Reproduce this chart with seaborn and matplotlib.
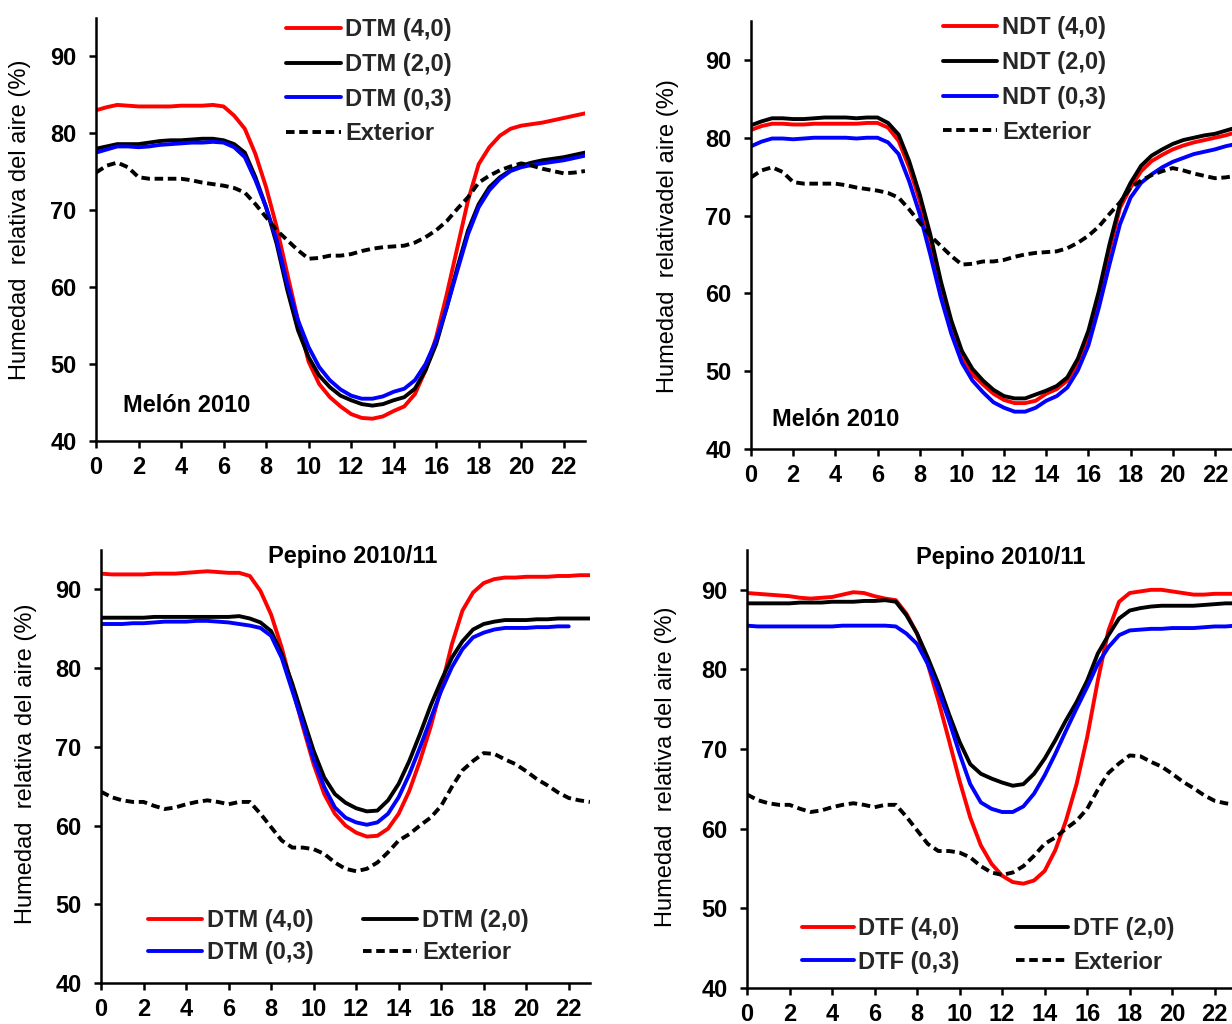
import numpy as np
import pandas as pd
import matplotlib
matplotlib.use("Agg")
import matplotlib.pyplot as plt
from matplotlib.lines import Line2D
import seaborn as sns

# Hour of day, half-hourly readings
hours = [h / 2 for h in range(47)]

# Melón 2010 - DTM treatments
mel_dtm_40 = [83.0, 83.4, 83.7, 83.6, 83.5, 83.5, 83.5, 83.5, 83.6, 83.6, 83.6, 83.7, 83.5, 82.3,
              80.6, 77.3, 73.0, 67.8, 61.7, 55.7, 50.3, 47.4, 45.7, 44.5, 43.5, 43.0, 42.9, 43.2,
              43.9, 44.5, 46.1, 49.2, 53.5, 59.1, 65.2, 71.3, 76.0, 78.2, 79.7, 80.6, 81.0, 81.2,
              81.4, 81.7, 82.0, 82.3, 82.6]
mel_dtm_20 = [78.0, 78.3, 78.6, 78.6, 78.6, 78.8, 79.0, 79.1, 79.1, 79.2, 79.3, 79.3, 79.1, 78.6,
              77.5, 74.3, 70.4, 65.6, 59.6, 54.4, 50.9, 48.5, 47.0, 45.9, 45.3, 44.8, 44.6, 44.8,
              45.3, 45.7, 46.8, 49.2, 52.6, 57.4, 62.6, 67.4, 70.8, 73.0, 74.3, 75.2, 75.8, 76.2,
              76.5, 76.7, 76.9, 77.2, 77.5]
mel_dtm_03 = [77.5, 77.9, 78.3, 78.3, 78.2, 78.3, 78.5, 78.6, 78.7, 78.8, 78.8, 78.9, 78.8, 78.2,
              76.9, 73.9, 70.4, 66.1, 60.4, 55.7, 52.2, 49.6, 47.9, 46.7, 45.9, 45.5, 45.5, 45.8,
              46.4, 46.8, 47.9, 50.0, 53.1, 57.4, 62.2, 66.9, 70.4, 72.6, 74.1, 75.1, 75.6, 75.9,
              76.1, 76.3, 76.5, 76.8, 77.1]
mel_exterior = [74.9, 75.8, 76.2, 75.6, 74.3, 74.1, 74.1, 74.1, 74.1, 73.9, 73.6, 73.4, 73.2, 72.9,
                72.3, 70.8, 69.1, 67.4, 66.1, 64.8, 63.7, 63.8, 64.1, 64.1, 64.3, 64.7, 65.0, 65.2,
                65.3, 65.4, 65.8, 66.5, 67.4, 68.6, 70.2, 71.7, 73.6, 74.5, 75.2, 75.7, 76.1, 75.8,
                75.4, 75.1, 74.8, 74.9, 75.1]

# Melón 2010 - NDT treatments
mel_ndt_40 = [81.0, 81.5, 81.8, 81.8, 81.7, 81.7, 81.8, 81.8, 81.8, 81.8, 81.8, 81.9, 81.9, 81.3,
              79.6, 76.2, 71.9, 66.7, 60.8, 55.6, 51.8, 49.6, 48.3, 47.1, 46.3, 45.9, 45.9, 46.2,
              47.1, 47.7, 48.8, 50.9, 54.3, 59.5, 65.5, 71.0, 73.6, 75.7, 77.0, 77.8, 78.5, 79.0,
              79.4, 79.7, 80.0, 80.3, 80.7]
mel_ndt_20 = [81.6, 82.1, 82.5, 82.5, 82.4, 82.4, 82.5, 82.6, 82.6, 82.6, 82.5, 82.6, 82.6, 81.9,
              80.4, 77.0, 72.7, 67.6, 61.6, 56.5, 52.6, 50.3, 48.8, 47.6, 46.8, 46.5, 46.5, 47.0,
              47.5, 48.1, 49.2, 51.6, 55.2, 60.3, 66.3, 71.5, 74.2, 76.4, 77.7, 78.5, 79.2, 79.7,
              80.0, 80.3, 80.5, 80.9, 81.3]
mel_ndt_03 = [78.9, 79.5, 79.9, 79.9, 79.8, 79.9, 80.0, 80.0, 80.0, 80.0, 79.9, 80.0, 80.0, 79.4,
              77.9, 74.4, 70.2, 65.0, 59.5, 54.8, 51.1, 48.8, 47.3, 46.0, 45.3, 44.8, 44.8, 45.3,
              46.2, 46.8, 47.9, 50.1, 53.3, 58.2, 63.7, 68.9, 72.3, 74.2, 75.3, 76.2, 76.9, 77.4,
              77.9, 78.2, 78.5, 78.9, 79.2]

# Pepino 2010/11 - DTM treatments
pep_dtm_40 = [92.0, 91.9, 91.9, 91.9, 91.9, 92.0, 92.0, 92.0, 92.1, 92.2, 92.3, 92.2, 92.1, 92.1,
              91.7, 89.8, 86.8, 82.6, 77.5, 72.5, 67.8, 64.0, 61.5, 60.0, 59.1, 58.6, 58.7, 59.6,
              61.5, 64.4, 68.2, 72.5, 77.5, 83.0, 87.3, 89.6, 90.8, 91.3, 91.5, 91.5, 91.6, 91.6,
              91.6, 91.7, 91.7, 91.8, 91.8]
pep_dtm_20 = [86.4, 86.4, 86.4, 86.4, 86.4, 86.5, 86.5, 86.5, 86.5, 86.5, 86.5, 86.5, 86.5, 86.6,
              86.3, 85.8, 84.7, 81.8, 78.0, 73.7, 69.5, 66.1, 64.0, 62.9, 62.2, 61.8, 61.9, 63.2,
              65.3, 68.2, 71.6, 75.2, 78.4, 81.3, 83.4, 84.9, 85.6, 85.9, 86.1, 86.1, 86.1, 86.2,
              86.2, 86.3, 86.3, 86.3, 86.3]
pep_dtm_03 = [85.6, 85.6, 85.6, 85.7, 85.7, 85.8, 85.9, 85.9, 85.9, 86.0, 86.0, 85.9, 85.8, 85.6,
              85.4, 85.1, 84.1, 81.3, 77.1, 72.9, 68.4, 64.9, 62.3, 61.0, 60.4, 60.1, 60.4, 61.5,
              63.6, 66.5, 69.9, 73.5, 77.1, 80.1, 82.4, 83.9, 84.5, 84.9, 85.1, 85.1, 85.1, 85.2,
              85.2, 85.3, 85.3, np.nan, np.nan]
pep_exterior = [64.3, 63.6, 63.2, 63.0, 63.0, 62.5, 62.1, 62.3, 62.7, 63.0, 63.2, 63.0, 62.7, 63.0,
                63.0, 61.5, 59.8, 58.1, 57.2, 57.2, 57.0, 56.4, 55.3, 54.5, 54.2, 54.5, 55.3, 56.6,
                58.1, 58.9, 60.0, 61.0, 62.5, 64.9, 67.0, 68.2, 69.2, 69.1, 68.4, 67.8, 66.9, 65.9,
                65.1, 64.2, 63.5, 63.2, 63.0]

# Pepino 2010/11 - DTF treatments
pep_dtf_40 = [89.6, 89.5, 89.4, 89.3, 89.2, 89.0, 88.9, 89.0, 89.1, 89.4, 89.7, 89.6, 89.2, 88.9,
              88.7, 87.0, 84.5, 80.7, 76.1, 71.1, 66.0, 61.4, 57.9, 55.6, 54.1, 53.3, 53.1, 53.5,
              54.7, 57.3, 61.0, 65.6, 71.5, 78.6, 84.9, 88.5, 89.6, 89.8, 90.0, 90.0, 89.8, 89.6,
              89.4, 89.4, 89.5, 89.5, 89.5]
pep_dtf_20 = [88.3, 88.3, 88.3, 88.3, 88.3, 88.4, 88.4, 88.4, 88.5, 88.5, 88.5, 88.6, 88.6, 88.7,
              88.5, 86.8, 84.5, 81.5, 78.2, 74.4, 70.9, 68.1, 66.9, 66.3, 65.8, 65.4, 65.6, 66.9,
              68.8, 71.1, 73.6, 75.9, 78.6, 82.0, 84.3, 86.4, 87.4, 87.7, 87.9, 88.0, 88.0, 88.0,
              88.0, 88.1, 88.2, 88.3, 88.3]
pep_dtf_03 = [85.5, 85.4, 85.4, 85.4, 85.4, 85.4, 85.4, 85.4, 85.4, 85.5, 85.5, 85.5, 85.5, 85.5,
              85.4, 84.5, 83.2, 80.7, 77.4, 73.6, 69.4, 65.6, 63.3, 62.5, 62.1, 62.1, 62.8, 64.4,
              66.7, 69.4, 72.3, 75.1, 77.8, 80.7, 82.8, 84.3, 84.9, 85.0, 85.1, 85.1, 85.2, 85.2,
              85.2, 85.3, 85.4, 85.4, 85.5]

x_ticks = list(range(0, 24, 2))
y_ticks = [40, 50, 60, 70, 80, 90]

sns.set_theme(style="ticks")
plt.rcParams["font.family"] = ["Liberation Sans", "DejaVu Sans"]

RED, BLACK, BLUE = "#ff0000", "#000000", "#0000ff"
LW = 2.8
DASH = (2.2, 1.2)
FS = 17

fig = plt.figure(figsize=(12.32, 10.24), dpi=100)
W, H = 1232, 1024


def add_axes(left, right, bottom, top):
    return fig.add_axes([left / W, 1 - bottom / H, (right - left) / W, (bottom - top) / H])


panels = [
    dict(box=(96, 585, 441, 18), prefix="DTM",
         series=[mel_dtm_40, mel_dtm_20, mel_dtm_03], ext=mel_exterior,
         ylabel="Humedad  relativa del aire (%)", ylab=(-0.133, 0.522),
         crop=("Melón 2010", 0.055, 0.085, "left"),
         leg=dict(ncol=1, anchor=(0.389, 1.0), spacing=0.5, colsp=1.0, hl=2.3)),
    dict(box=(751, 1236, 449, 21), prefix="NDT",
         series=[mel_ndt_40, mel_ndt_20, mel_ndt_03], ext=mel_exterior,
         ylabel="Humedad  relativadel aire (%)", ylab=(-0.148, 0.498),
         crop=("Melón 2010", 0.043, 0.07, "left"),
         leg=dict(ncol=1, anchor=(0.396, 1.011), spacing=0.5, colsp=1.0, hl=2.3)),
    dict(box=(101, 590, 983, 550), prefix="DTM",
         series=[pep_dtm_40, pep_dtm_20, pep_dtm_03], ext=pep_exterior,
         ylabel="Humedad  relativa del aire (%)", ylab=(-0.131, 0.506),
         crop=("Pepino 2010/11", 0.515, 0.984, "center"),
         leg=dict(ncol=2, anchor=(0.0957, 0.17), spacing=0.38, colsp=2.1, hl=2.3)),
    dict(box=(747, 1236, 988, 550), prefix="DTF",
         series=[pep_dtf_40, pep_dtf_20, pep_dtf_03], ext=pep_exterior,
         ylabel="Humedad  relativa del aire (%)", ylab=(-0.143, 0.505),
         crop=("Pepino 2010/11", 0.519, 0.984, "center"),
         leg=dict(ncol=2, anchor=(0.112, 0.162), spacing=0.45, colsp=2.4, hl=2.2)),
]

for p in panels:
    ax = add_axes(*p["box"])
    labels = [f"{p['prefix']} (4,0)", f"{p['prefix']} (2,0)", f"{p['prefix']} (0,3)", "Exterior"]
    colors = [RED, BLACK, BLUE]
    handles = []
    for vals, col, lab in zip(p["series"], colors, labels[:3]):
        df = pd.DataFrame({"hora": hours, "hr": vals})
        sns.lineplot(data=df, x="hora", y="hr", ax=ax, color=col, linewidth=LW,
                     solid_joinstyle="round", solid_capstyle="round")
        handles.append(Line2D([], [], color=col, linewidth=LW))
    dfe = pd.DataFrame({"hora": hours, "hr": p["ext"]})
    sns.lineplot(data=dfe, x="hora", y="hr", ax=ax, color=BLACK, linewidth=LW)
    ax.lines[-1].set_dashes(DASH)
    eh = Line2D([], [], color=BLACK, linewidth=LW)
    eh.set_dashes(DASH)
    handles.append(eh)

    ax.set_xlim(0, 23)
    ax.set_ylim(40, 95)
    ax.set_xticks(x_ticks)
    ax.set_yticks(y_ticks)
    ax.set_xlabel("")
    ax.set_ylabel(p["ylabel"], fontsize=17, fontweight="normal", color="black")
    ax.yaxis.set_label_coords(*p["ylab"])
    sns.despine(ax=ax)
    for s in ("left", "bottom"):
        ax.spines[s].set_linewidth(1.8)
        ax.spines[s].set_color("black")
    ax.tick_params(axis="both", direction="out", length=5, width=1.8, colors="black",
                   labelsize=FS)
    ax.tick_params(axis="x", pad=6)
    ax.tick_params(axis="y", pad=9)
    for t in ax.get_xticklabels() + ax.get_yticklabels():
        t.set_fontweight("bold")
    ax.set_facecolor("white")

    txt, tx, ty, ha = p["crop"]
    ax.text(tx, ty, txt, transform=ax.transAxes, ha=ha, va="center",
            fontsize=FS, fontweight="bold", color="black")

    lg = p["leg"]
    if lg["ncol"] == 2:
        order = [0, 2, 1, 3]
        h_ = [handles[i] for i in order]
        l_ = [labels[i] for i in order]
    else:
        h_, l_ = handles, labels
    ax.legend(h_, l_, loc="upper left", bbox_to_anchor=lg["anchor"], ncol=lg["ncol"],
              frameon=False, borderpad=0, borderaxespad=0, handlelength=lg["hl"],
              handletextpad=0.2, labelspacing=lg["spacing"], columnspacing=lg["colsp"],
              prop=dict(size=FS, weight="bold"))

fig.savefig("out.png", dpi=100, facecolor="white")
